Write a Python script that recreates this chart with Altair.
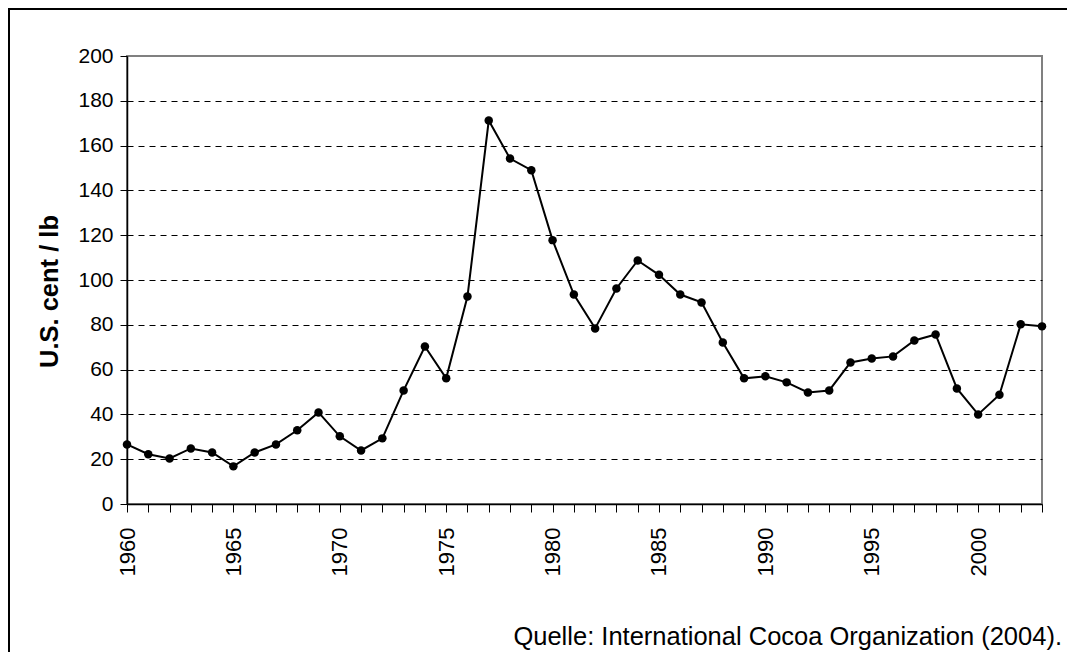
import altair as alt
import pandas as pd

years = list(range(1960, 2004))
prices = [26.6, 22.2, 20.3, 24.8, 23.0, 16.8, 23.0, 26.6, 32.9, 40.9,
          30.2, 23.9, 29.3, 50.7, 70.3, 56.1, 92.6, 171.2, 154.2, 149.0,
          117.8, 93.5, 78.4, 96.2, 108.7, 102.3, 93.5, 90.0, 72.1, 56.1,
          57.0, 54.3, 49.8, 50.7, 63.2, 65.0, 65.9, 73.0, 75.7, 51.6,
          40.0, 48.8, 80.2, 79.3]
y_ticks = list(range(0, 201, 20))
y_title = "U.S. cent / lb"
source_note = ["Quelle: International Cocoa Organization (2004)."]

df = pd.DataFrame({"year": years, "price": prices})

FONT = "Liberation Sans"

x_enc = alt.X(
    "year:Q",
    scale=alt.Scale(domain=[1960, 2003], nice=False, zero=False),
    axis=alt.Axis(
        values=years,
        labelExpr="datum.value % 5 == 0 ? toString(datum.value) : ''",
        labelAngle=-90,
        labelAlign="right",
        labelBaseline="middle",
        labelPadding=15,
        labelFontSize=22,
        labelFont=FONT,
        labelColor="black",
        labelOverlap=False,
        labelFlush=False,
        labelBound=False,
        tickSize=8,
        tickColor="black",
        tickWidth=1,
        domainColor="black",
        domainWidth=1.5,
        grid=False,
        title=None,
    ),
)

y_enc = alt.Y(
    "price:Q",
    scale=alt.Scale(domain=[0, 200], nice=False),
    axis=alt.Axis(
        values=y_ticks,
        labelFontSize=21,
        labelFont=FONT,
        labelColor="black",
        labelPadding=7,
        tickSize=7,
        tickColor="black",
        tickWidth=1,
        domainColor="black",
        domainWidth=1.5,
        grid=True,
        gridColor="black",
        gridWidth=1,
        gridDash=[6, 5],
        gridOpacity={"condition": {"test": "datum.value == 200 || datum.value == 0", "value": 0}, "value": 1},
        labelOverlap=False,
        title=y_title,
        titleFont=FONT,
        titleFontSize=25.5,
        titleFontWeight="bold",
        titleColor="black",
        titleAngle=270,
        titleBaseline="alphabetic",
        titleAlign="center",
        titleX=-70,
        titleY=235,
    ),
)

base = alt.Chart(df).encode(x=x_enc, y=y_enc)
line = base.mark_line(color="black", strokeWidth=2)
points = base.mark_circle(color="black", size=72, opacity=1)

note = alt.Chart(pd.DataFrame({"t": source_note})).mark_text(
    align="right", baseline="alphabetic", font=FONT, fontSize=25.5, color="black"
).encode(text="t:N", x=alt.value(935), y=alt.value(589))

frame = alt.Chart(pd.DataFrame({"a": [0]})).mark_rect(
    fillOpacity=0, stroke="black", strokeWidth=2
).encode(x=alt.value(-118), x2=alt.value(1200), y=alt.value(-47), y2=alt.value(800))

chart = alt.layer(line, points, note, frame).properties(
    width=915,
    height=448,
    autosize=alt.AutoSizeParams(type="none"),
    padding={"left": 119, "top": 48, "right": 25, "bottom": 148},
    background="white",
).configure_view(stroke="#808080", strokeWidth=2)

chart.save("out.html", embed_options={"renderer": "svg", "actions": False})
